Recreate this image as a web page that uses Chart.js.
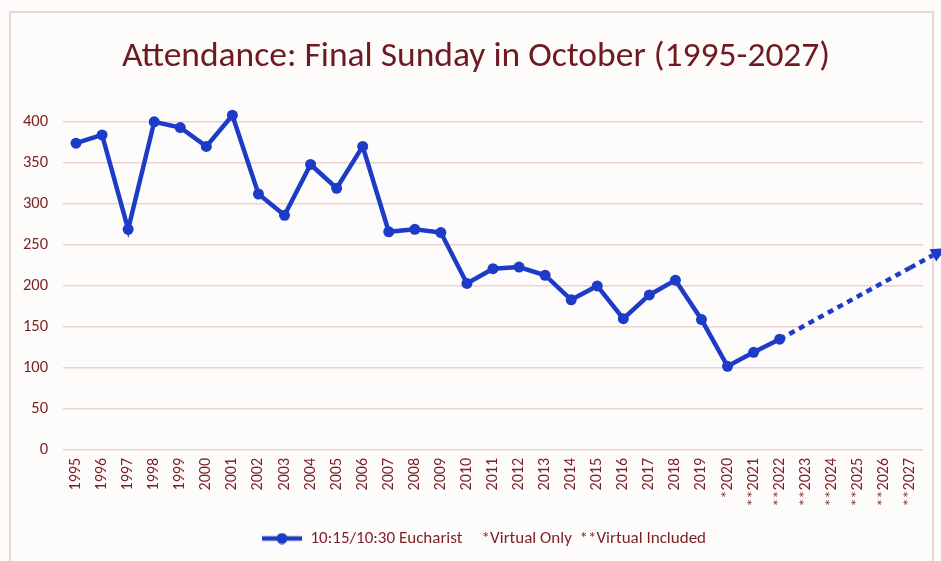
<!DOCTYPE html>
<html lang="en">
<head>
  <meta charset="UTF-8" />
  <title>Attendance: Final Sunday in October</title>
  <script src="https://cdn.jsdelivr.net/npm/chart.js"></script>
  <style>
    html, body { margin: 0; padding: 0; background: #fdfaf9; }
    #wrap { position: relative; width: 941px; height: 561px; overflow: hidden; }
    #frame {
      position: absolute; left: 9px; top: 11px; width: 925px; height: 570px;
      border: 2px solid #e8d9d6; background: #fefcfb; box-sizing: border-box;
    }
    #chart { position: absolute; left: 0; top: 0; }
  </style>
</head>
<body>
  <div id="wrap">
    <div id="frame"></div>
    <canvas id="chart" width="941" height="561"></canvas>
  </div>

  <script>
    // categories (x axis labels)
    const years = [
      "1995", "1996", "1997", "1998", "1999", "2000", "2001", "2002", "2003",
      "2004", "2005", "2006", "2007", "2008", "2009", "2010", "2011", "2012",
      "2013", "2014", "2015", "2016", "2017", "2018", "2019", "*2020",
      "**2021", "**2022", "**2023", "**2024", "**2025", "**2026", "**2027"
    ];
    // 10:15/10:30 Eucharist attendance
    const attendance = [
      374, 384, 269, 400, 393, 370, 408, 312, 286, 348, 319, 370, 266, 269,
      265, 203, 221, 223, 213, 183, 200, 160, 189, 207, 159, 102, 119, 135,
      null, null, null, null, null
    ];
    // dotted projection (2022 -> 2027)
    const projection = [
      null, null, null, null, null, null, null, null, null, null, null, null,
      null, null, null, null, null, null, null, null, null, null, null, null,
      null, null, null, 135, null, null, null, null, 222
    ];
    const seriesLabel = "10:15/10:30 Eucharist";
    const legendNotes = "*Virtual Only  **Virtual Included";
    const titleText = "Attendance: Final Sunday in October (1995-2027)";
    const yMin = 0, yMax = 410, yStep = 50;

    const BLUE = "#1c3cc8";
    const RED = "#7a1f24";
    const GRID = "#ead2d0";
    const FONT = "Carlito, Lato, sans-serif";

    // little line + dot swatch for the legend
    const swatch = document.createElement("canvas");
    swatch.width = 40; swatch.height = 12;
    (function () {
      const c = swatch.getContext("2d");
      c.strokeStyle = BLUE; c.fillStyle = BLUE; c.lineWidth = 4.5;
      c.beginPath(); c.moveTo(0, 6); c.lineTo(40, 6); c.stroke();
      c.beginPath(); c.arc(20, 6, 5.5, 0, Math.PI * 2); c.fill();
    })();

    // title and legend sit a bit right of the plot centre in the original
    const nudgePlugin = {
      id: "nudge",
      afterLayout(chart) {
        chart.titleBlock.left += 10; chart.titleBlock.right += 10;
        chart.legend.left += 18; chart.legend.right += 18;
      }
    };

    // extends the dotted projection past the plot and puts an arrowhead on it
    const arrowPlugin = {
      id: "arrow",
      afterDatasetsDraw(chart) {
        const meta = chart.getDatasetMeta(1);
        const pts = meta.data.filter((p, i) => projection[i] !== null);
        if (pts.length < 2) return;
        const a = pts[pts.length - 2], b = pts[pts.length - 1];
        const dx = b.x - a.x, dy = b.y - a.y;
        const len = Math.hypot(dx, dy);
        const ux = dx / len, uy = dy / len;
        const tipX = chart.width + 5;
        const t = (tipX - b.x) / ux;
        const tip = { x: b.x + ux * t, y: b.y + uy * t };
        const headLen = 15, headW = 7;
        const base = { x: tip.x - ux * headLen, y: tip.y - uy * headLen };
        const ctx = chart.ctx;
        ctx.save();
        ctx.strokeStyle = BLUE;
        ctx.lineWidth = 4.5;
        ctx.setLineDash([6, 5]);
        ctx.beginPath();
        ctx.moveTo(b.x, b.y);
        ctx.lineTo(base.x, base.y);
        ctx.stroke();
        ctx.setLineDash([]);
        ctx.fillStyle = BLUE;
        ctx.beginPath();
        ctx.moveTo(tip.x, tip.y);
        ctx.lineTo(base.x - uy * headW, base.y + ux * headW);
        ctx.lineTo(base.x + uy * headW, base.y - ux * headW);
        ctx.closePath();
        ctx.fill();
        ctx.restore();
      }
    };

    new Chart(document.getElementById("chart"), {
      type: "line",
      data: {
        labels: years,
        datasets: [
          {
            label: seriesLabel,
            data: attendance,
            borderColor: BLUE,
            backgroundColor: BLUE,
            borderWidth: 4.5,
            pointRadius: 5.5,
            pointBorderWidth: 0,
            pointBackgroundColor: BLUE,
            tension: 0,
            clip: false
          },
          {
            label: "projection",
            data: projection,
            borderColor: BLUE,
            borderWidth: 4.5,
            borderDash: [6, 5],
            pointRadius: 0,
            spanGaps: true,
            tension: 0,
            clip: false
          }
        ]
      },
      options: {
        responsive: false,
        animation: false,
        events: [],
        layout: { padding: { left: 9, right: 18, top: 0, bottom: 4 } },
        plugins: {
          title: {
            display: true,
            text: titleText,
            color: "#6e1a20",
            font: { family: FONT, size: 35.5, weight: "normal" },
            padding: { top: 36, bottom: 35 }
          },
          legend: {
            position: "bottom",
            labels: {
              color: RED,
              font: { family: FONT, size: 17 },
              usePointStyle: true,
              pointStyleWidth: 40,
              boxHeight: 12,
              padding: 12,
              generateLabels(chart) {
                return [{
                  text: seriesLabel + "     " + legendNotes,
                  pointStyle: swatch,
                  fillStyle: BLUE,
                  strokeStyle: BLUE,
                  lineWidth: 0,
                  fontColor: RED,
                  datasetIndex: 0
                }];
              }
            }
          },
          tooltip: { enabled: false }
        },
        scales: {
          x: {
            offset: true,
            grid: { display: false, drawTicks: false },
            border: { display: false },
            ticks: {
              color: RED,
              font: { family: FONT, size: 16 },
              minRotation: 90,
              maxRotation: 90,
              autoSkip: false,
              padding: 8
            },
            afterFit(scale) { scale.height = 68; }
          },
          y: {
            min: yMin,
            max: yMax,
            grid: { color: GRID, lineWidth: 1.5, drawTicks: false },
            border: { display: false },
            ticks: {
              stepSize: yStep,
              includeBounds: false,
              color: RED,
              font: { family: FONT, size: 16.5 },
              padding: 15
            },
            afterFit(scale) { scale.width = 54; }
          }
        }
      },
      plugins: [nudgePlugin, arrowPlugin]
    });
  </script>
</body>
</html>
